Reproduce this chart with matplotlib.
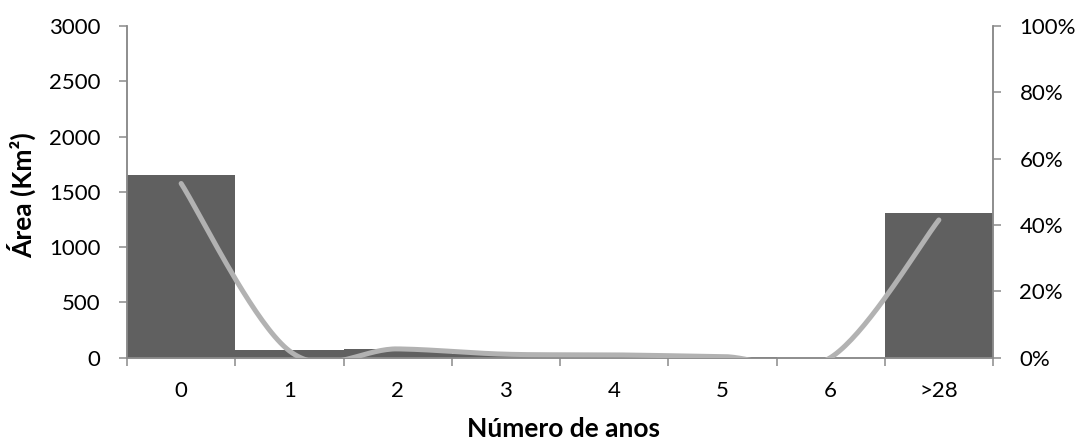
import numpy as np
import matplotlib
matplotlib.use("Agg")
import matplotlib.pyplot as plt
from matplotlib.ticker import FixedLocator, FuncFormatter

plt.rcParams['font.family'] = ['Lato', 'DejaVu Sans']

# data
categories = ['0', '1', '2', '3', '4', '5', '6', '>28']
area_km2 = [1650, 65, 80, 30, 25, 4, 0, 1310]
area_pct = [52.5, 2.0, 2.6, 1.0, 0.8, 0.3, 0.0, 41.5]

BAR_COLOR = '#606060'
LINE_COLOR = '#b2b2b2'
AXIS_COLOR = '#8a8a8a'


def smooth_line(xs, ys, n=40):
    # excel-like smoothed line: bezier segments with catmull-rom control points
    xs = np.asarray(xs, float)
    ys = np.asarray(ys, float)
    px = np.concatenate([[xs[0]], xs, [xs[-1]]])
    py = np.concatenate([[ys[0]], ys, [ys[-1]]])
    t = np.linspace(0, 1, n)
    out_x, out_y = [], []
    for i in range(1, len(px) - 2):
        p0 = np.array([px[i], py[i]])
        p3 = np.array([px[i + 1], py[i + 1]])
        c1 = p0 + (p3 - np.array([px[i - 1], py[i - 1]])) / 6
        c2 = p3 - (np.array([px[i + 2], py[i + 2]]) - p0) / 6
        b = ((1 - t) ** 3)[:, None] * p0 + (3 * (1 - t) ** 2 * t)[:, None] * c1 \
            + (3 * (1 - t) * t ** 2)[:, None] * c2 + (t ** 3)[:, None] * p3
        out_x.extend(b[:, 0])
        out_y.extend(b[:, 1])
    return out_x, out_y


fig = plt.figure(figsize=(10.81, 4.41), dpi=100)
ax = fig.add_axes([0.1175, 0.1893, 0.8011, 0.7517])
x = np.arange(len(categories))

ax.bar(x, area_km2, width=1.0, color=BAR_COLOR, zorder=2)
ax.set_xlim(-0.5, len(categories) - 0.5)
ax.set_ylim(0, 3000)
ax.set_yticks(np.arange(0, 3001, 500))

# category boundaries get the tick marks, labels sit in the middle
ax.xaxis.set_major_locator(FixedLocator(np.arange(-0.5, len(categories), 1.0)))
ax.xaxis.set_major_formatter(FuncFormatter(lambda v, p: ''))
ax.set_xticks(x, categories, minor=True)
ax.tick_params(axis='both', which='both', labelsize=16)
ax.tick_params(axis='x', which='minor', length=0, pad=17)
ax.tick_params(axis='x', which='major', length=6, width=1.1, color=AXIS_COLOR)
ax.tick_params(axis='y', length=6, width=1.1, color=AXIS_COLOR, pad=13)

ax2 = ax.twinx()
lx, ly = smooth_line(x, area_pct)
ax2.plot(lx, ly, color=LINE_COLOR, lw=3.6, solid_capstyle='round', zorder=3)
ax2.set_ylim(0, 100)
ax2.set_yticks(np.arange(0, 101, 20))
ax2.yaxis.set_major_formatter(FuncFormatter(lambda v, p: f'{v:.0f}%'))
ax2.tick_params(axis='y', length=6, width=1.1, color=AXIS_COLOR, pad=13, labelsize=16)

for a in (ax, ax2):
    a.spines['top'].set_visible(False)
    for s in ('left', 'right', 'bottom'):
        a.spines[s].set_color(AXIS_COLOR)
        a.spines[s].set_linewidth(1.1)

fig.text(0.521, 1 - 429 / 441, 'Número de anos', ha='center', va='center',
         fontsize=19, fontweight='bold')
fig.text(22 / 1081, 1 - 195 / 441, 'Área (Km²)', ha='center', va='center',
         rotation=90, fontsize=19, fontweight='bold')

fig.savefig('out.png', dpi=100)
